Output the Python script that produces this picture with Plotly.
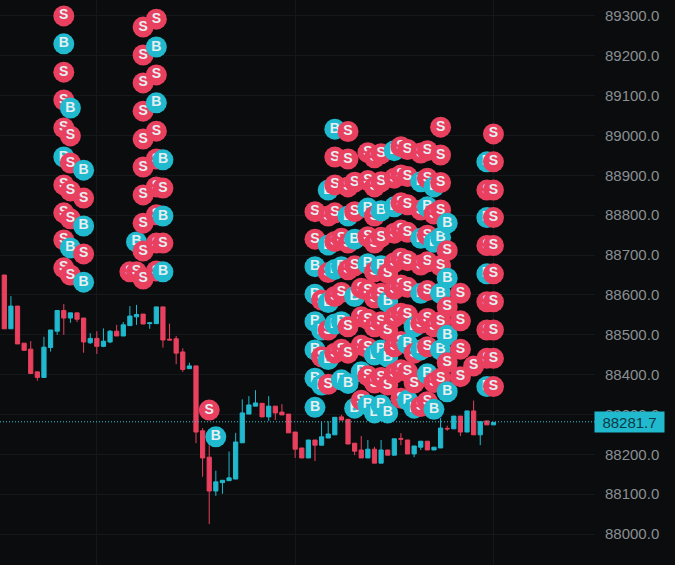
import plotly.graph_objects as go

RED = "#E8405E"
BLUE = "#20B9CE"
BG = "#0A0C0E"
GRID = "#15181B"

candle_index = list(range(75))
opens = [88650,88515,88572,88479,88464,88407,88393,88468,88509,88561,88542,88555,88542,88480,88491,88471,88482,88509,88497,88523,88545,88552,88528,88528,88570,88489,88490,88457,88415,88422,88259,88193,88108,88129,88134,88138,88229,88301,88321,88328,88294,88321,88306,88301,88256,88216,88191,88236,88223,88241,88249,88294,88288,88228,88211,88191,88213,88178,88211,88198,88240,88236,88201,88218,88233,88211,88216,88265,88264,88296,88256,88309,88249,88284,88274]
highs = [88650,88597,88572,88479,88484,88407,88495,88512,88561,88577,88555,88555,88542,88504,88509,88516,88512,88525,88532,88572,88575,88552,88530,88570,88570,88528,88497,88466,88430,88422,88266,88223,88159,88135,88207,88254,88338,88346,88361,88328,88346,88321,88326,88301,88256,88216,88236,88236,88281,88283,88293,88299,88288,88228,88246,88236,88219,88236,88211,88239,88253,88236,88221,88233,88233,88218,88291,88272,88296,88296,88309,88335,88282,88284,88280]
lows = [88515,88515,88477,88461,88403,88385,88393,88458,88500,88500,88530,88532,88455,88477,88452,88469,88479,88497,88497,88523,88525,88527,88515,88528,88468,88487,88426,88407,88415,88228,88144,88025,88096,88101,88134,88138,88229,88301,88321,88294,88284,88286,88299,88254,88191,88191,88191,88183,88223,88241,88249,88286,88226,88198,88191,88191,88178,88178,88198,88198,88223,88201,88193,88211,88211,88211,88216,88259,88264,88246,88256,88249,88223,88274,88274]
closes = [88515,88572,88477,88461,88403,88393,88469,88512,88561,88542,88555,88539,88482,88491,88471,88484,88509,88497,88525,88547,88551,88527,88530,88570,88487,88487,88454,88413,88422,88256,88191,88108,88131,88135,88141,88231,88304,88324,88329,88294,88321,88304,88299,88254,88213,88191,88236,88223,88244,88251,88293,88286,88226,88208,88191,88213,88178,88211,88198,88239,88238,88201,88221,88233,88211,88218,88266,88264,88296,88256,88309,88249,88282,88274,88280]

marker_columns = [9,10,12,19,20,21,23,24,31,32,47,48,49,50,51,52,53,54,55,56,57,58,59,60,61,62,63,64,65,66,67,69,71,73,74]
marker_prices = [
    [89300,89230,89159,89089,89019,88946,88876,88806,88738,88668],
    [89069,88999,88931,88861,88791,88718,88650],
    [88913,88843,88773,88703,88632],
    [88658],
    [88733,88658],
    [89272,89202,89132,89061,88991,88921,88851,88780,88710,88640],
    [89292,89222,89152,89082,89011,88941,88871,88801,88730,88660],
    [88939,88868,88798,88730,88658],
    [88311],
    [88244],
    [88809,88740,88671,88602,88533,88462,88391,88318],
    [88587,88512,88445,88374],
    [88863,88798,88725,88656,88581,88512,88438,88376],
    [89016,88946,88876,88806,88734,88664,88596,88527,88454],
    [88742,88671,88606,88533,88464,88387],
    [89010,88941,88871,88798,88730,88663,88520,88454,88378],
    [88883,88809,88740,88673,88596,88316],
    [88617,88545,88474,88407,88336],
    [88957,88887,88818,88746,88678,88611,88539,88467,88397,88324],
    [88944,88871,88798,88730,88658,88592,88520,88449,88379,88304],
    [88954,88884,88811,88745,88673,88604,88533,88462,88393,88324],
    [88654,88583,88512,88444,88374,88304],
    [88962,88893,88821,88755,88681,88614,88544,88470,88403],
    [88972,88901,88831,88763,88692,88625,88554,88483,88412,88341],
    [88965,88897,88826,88757,88686,88619,88550,88477,88407,88336],
    [88520,88454,88379,88316],
    [88956,88884,88813,88742,88675,88604,88529,88462,88320],
    [88962,88893,88821,88750,88683,88611,88541,88470,88402,88332],
    [88871,88803,88732,88520,88380,88313],
    [89021,88951,88882,88813,88744,88673,88604,88533,88462,88391],
    [88780,88711,88642,88570,88499,88430,88357],
    [88604,88535,88464,88395],
    [88422],
    [88934,88863,88794,88724,88653,88583,88512,88441,88370],
    [89004,88934,88863,88794,88724,88653,88583,88512,88441,88370],
]
marker_sides = ["SBSSSBSSSS","BSSSSBS","BSBSB","S","BS","SSSSSSSSSS","SBSBSSSSSS","BSBSB","S","B",
    "SSBBBBBB","SBSB","BSBSBSBS","BSSSSBSBS","SBSBSB","SSSBSSSSB","SSBSBB","SSSBS","SSBSBSSSSB",
    "SSSSSSSBSB","SSBSBSSBSB","SBSBSB","BSBSSSSSS","SSSSSSSSSS","SSSSSSSBSB","BSSB","SBSBSBSBS",
    "SSBSSSSSBS","BSBSSB","SSSSBSBSBS","BSBSBSB","SSSS","S","BSBSBSSSB","SSSSSSSSSS"]

y_ticks = [88000,88100,88200,88300,88400,88500,88600,88700,88800,88900,89000,89100,89200,89300]
y_labels = [f"{v:.1f}" for v in y_ticks]
x_grid = [14,44,74]
last_price = 88281.7

fig = go.Figure()
fig.add_trace(go.Candlestick(
    x=candle_index, open=opens, high=highs, low=lows, close=closes,
    increasing=dict(line=dict(color=BLUE, width=1), fillcolor=BLUE),
    decreasing=dict(line=dict(color=RED, width=1), fillcolor=RED),
    whiskerwidth=0, showlegend=False, hoverinfo="skip",
))

for col, prices, sides in zip(marker_columns, marker_prices, marker_sides):
    for p, s in zip(prices, sides):
        fig.add_trace(go.Scatter(
            x=[col], y=[p], mode="markers+text", text=[s], textposition="middle center",
            marker=dict(size=21, color=RED if s == "S" else BLUE, line=dict(width=0)),
            textfont=dict(family="Liberation Sans", size=14, color="#E6EFF2", weight="bold"),
            showlegend=False, hoverinfo="skip",
        ))

fig.add_shape(type="line", xref="paper", yref="y", x0=0, x1=1, y0=last_price, y1=last_price,
              line=dict(color="#3FC4D6", width=1, dash="1px,2px"), layer="above")
fig.add_annotation(xref="paper", yref="y", x=1, y=last_price, xanchor="left", yanchor="middle",
                   xshift=-1, text=f"{last_price:.1f}", showarrow=False, width=69, height=20,
                   bgcolor=BLUE, borderpad=0, align="center",
                   font=dict(family="Liberation Sans", size=15, color="#0A3A44"))

fig.update_layout(
    width=675, height=565, margin=dict(l=0, r=80, t=0, b=0),
    paper_bgcolor=BG, plot_bgcolor=BG, showlegend=False,
    boxgap=0.2, boxgroupgap=0.2,
    xaxis=dict(range=[-0.65, 89.36], rangeslider=dict(visible=False), showticklabels=False,
               tickmode="array", tickvals=x_grid, gridcolor=GRID, gridwidth=1, zeroline=False,
               ticks="", showline=False),
    yaxis=dict(range=[87922.4, 89340], side="right", tickmode="array", tickvals=y_ticks,
               ticktext=y_labels, gridcolor=GRID, gridwidth=1, zeroline=False, showline=False,
               ticks="outside", ticklen=6, tickcolor=BG,
               tickfont=dict(family="Liberation Sans", size=15, color="#8A8F93")),
)
fig.write_html("out.html", config=dict(displayModeBar=False),
               post_script="document.body.style.margin='0';document.body.style.background='#0A0C0E';")
